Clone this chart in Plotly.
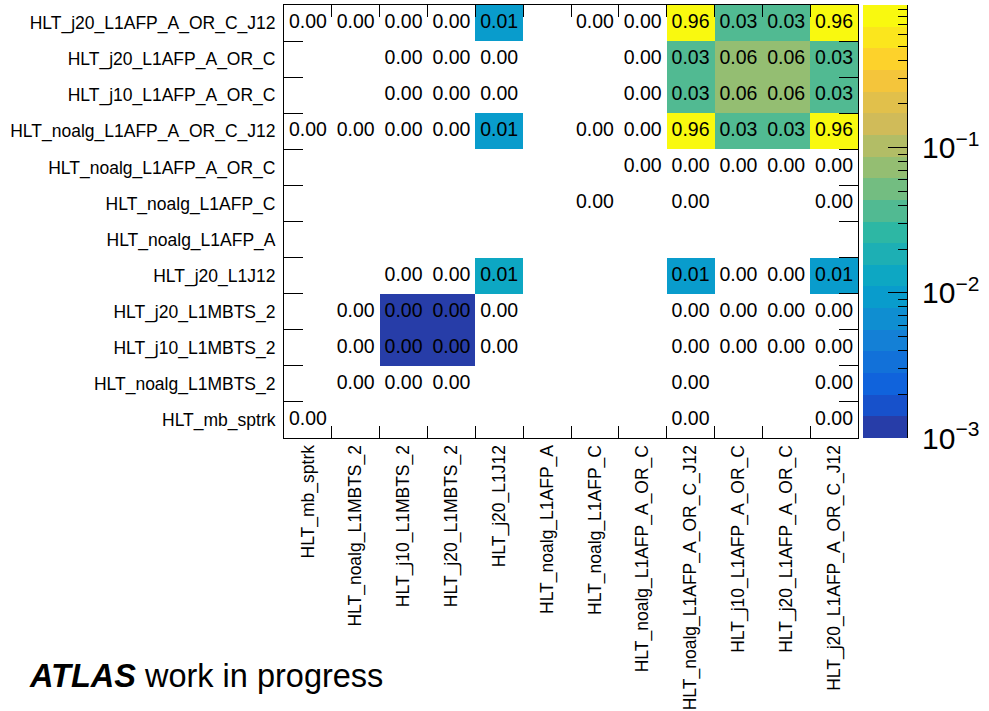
import math
import plotly.graph_objects as go

# ---------------- data ----------------
triggers = [
    "HLT_mb_sptrk",
    "HLT_noalg_L1MBTS_2",
    "HLT_j10_L1MBTS_2",
    "HLT_j20_L1MBTS_2",
    "HLT_j20_L1J12",
    "HLT_noalg_L1AFP_A",
    "HLT_noalg_L1AFP_C",
    "HLT_noalg_L1AFP_A_OR_C",
    "HLT_noalg_L1AFP_A_OR_C_J12",
    "HLT_j10_L1AFP_A_OR_C",
    "HLT_j20_L1AFP_A_OR_C",
    "HLT_j20_L1AFP_A_OR_C_J12",
]

# rows = y trigger (bottom to top), columns = x trigger (left to right); 0 = empty bin
row_mb_sptrk          = [0.0004, 0, 0, 0, 0, 0, 0, 0, 0.0004, 0, 0, 0.0004]
row_noalg_mbts        = [0, 0.0003, 0.0003, 0.0003, 0, 0, 0, 0, 0.0004, 0, 0, 0.0004]
row_j10_mbts          = [0, 0.0003, 0.0012, 0.0012, 0.0006, 0, 0, 0, 0.0005, 0.0004, 0.0004, 0.0005]
row_j20_mbts          = [0, 0.0003, 0.0012, 0.0012, 0.0006, 0, 0, 0, 0.0005, 0.0004, 0.0004, 0.0005]
row_j20_j12           = [0, 0, 0.0004, 0.0004, 0.013, 0, 0, 0, 0.0095, 0.0008, 0.0008, 0.0095]
row_noalg_afp_a       = [0, 0, 0, 0, 0, 0, 0, 0, 0, 0, 0, 0]
row_noalg_afp_c       = [0, 0, 0, 0, 0, 0, 0.0002, 0, 0.0002, 0, 0, 0.0002]
row_noalg_afp_aorc    = [0, 0, 0, 0, 0, 0, 0, 0.0003, 0.0003, 0.0002, 0.0002, 0.0003]
row_noalg_afp_aorc_j12 = [0.0004, 0.0003, 0.0004, 0.0004, 0.0095, 0, 0.0002, 0.0003, 0.96, 0.034, 0.034, 0.96]
row_j10_afp_aorc      = [0, 0, 0.0004, 0.0004, 0.0008, 0, 0, 0.0002, 0.034, 0.0635, 0.0635, 0.034]
row_j20_afp_aorc      = [0, 0, 0.0004, 0.0004, 0.0008, 0, 0, 0.0002, 0.034, 0.0635, 0.0635, 0.034]
row_j20_afp_aorc_j12  = [0.0004, 0.0003, 0.0004, 0.0004, 0.0095, 0, 0.0002, 0.0003, 0.96, 0.034, 0.034, 0.96]

values = [
    row_mb_sptrk, row_noalg_mbts, row_j10_mbts, row_j20_mbts, row_j20_j12,
    row_noalg_afp_a, row_noalg_afp_c, row_noalg_afp_aorc, row_noalg_afp_aorc_j12,
    row_j10_afp_aorc, row_j20_afp_aorc, row_j20_afp_aorc_j12,
]

z_min_val = 1e-3
z_max_val = 0.96
n_contours = 20
colorbar_ticks = [1e-3, 1e-2, 1e-1]
colorbar_ticktext = ["10<sup>\u22123</sup>", "10<sup>\u22122</sup>", "10<sup>\u22121</sup>"]

# ---------------- ROOT kBird palette -> 20 discrete bands ----------------
stops = [0.0, 0.125, 0.25, 0.375, 0.5, 0.625, 0.75, 0.875, 1.0]
red = [0.2082, 0.0592, 0.0780, 0.0232, 0.1802, 0.5301, 0.8186, 0.9956, 0.9764]
green = [0.1664, 0.3599, 0.5041, 0.6419, 0.7178, 0.7492, 0.7328, 0.7862, 0.9832]
blue = [0.5293, 0.8684, 0.8385, 0.7914, 0.6425, 0.4662, 0.3499, 0.1968, 0.0539]


def bird(f):
    for k in range(len(stops) - 1):
        if stops[k] <= f <= stops[k + 1]:
            t = (f - stops[k]) / (stops[k + 1] - stops[k])
            r = red[k] + t * (red[k + 1] - red[k])
            g = green[k] + t * (green[k + 1] - green[k])
            b = blue[k] + t * (blue[k + 1] - blue[k])
            return "rgb(%d,%d,%d)" % (round(r * 255), round(g * 255), round(b * 255))
    return "rgb(249,251,14)"


colorscale = []
for i in range(n_contours):
    f = int((i + 0.99) * 255 / n_contours) / 255.0
    c = bird(f)
    colorscale.append([i / n_contours, c])
    colorscale.append([(i + 1) / n_contours, c])

zmin = math.log10(z_min_val)
zmax = math.log10(z_max_val)

zlog = [[(math.log10(v) if v >= z_min_val else None) for v in row] for row in values]

FONT = "Liberation Sans, Arial, Helvetica, sans-serif"

fig = go.Figure()
fig.add_trace(go.Heatmap(
    x=triggers, y=triggers, z=zlog, colorscale=colorscale, zmin=zmin, zmax=zmax,
    showscale=False, hoverongaps=False, xaxis="x", yaxis="y",
))

# cell texts
tx, ty, tt = [], [], []
for iy, row in enumerate(values):
    for ix, v in enumerate(row):
        if v > 0:
            tx.append(triggers[ix])
            ty.append(triggers[iy])
            tt.append("%.2f" % v)
fig.add_trace(go.Scatter(
    x=tx, y=ty, text=tt, mode="text", textposition="middle center",
    textfont=dict(family=FONT, size=19.5, color="black"),
    showlegend=False, hoverinfo="skip", xaxis="x", yaxis="y",
))

# colour bar drawn as a one-column heatmap on its own axes
band = (zmax - zmin) / n_contours
edges = [zmin + i * band for i in range(n_contours + 1)]
centers = [[zmin + (i + 0.5) * band] for i in range(n_contours)]
fig.add_trace(go.Heatmap(
    x=[0, 1], y=edges, z=centers, colorscale=colorscale, zmin=zmin, zmax=zmax,
    showscale=False, hoverinfo="skip", xaxis="x2", yaxis="y2",
))

minor_vals = []
for e in (-3, -2, -1):
    for k in range(2, 10):
        lv = math.log10(k * 10 ** e)
        if lv <= zmax:
            minor_vals.append(lv)

W, H = 989, 711
L, R, T, B = 284, 82, 5, 273
PW = W - L - R
PH = H - T - B
main_right = (858 - L) / PW
cb_left = (863 - L) / PW

axis_common = dict(
    showline=True, linecolor="black", linewidth=1, mirror="ticks",
    ticks="inside", tickson="boundaries", tickcolor="black", tickwidth=1,
    showgrid=False, zeroline=False, automargin=False,
    tickfont=dict(family=FONT, size=17.5, color="black"),
    type="category",
)

fig.update_layout(
    width=W, height=H,
    margin=dict(l=L, r=R, t=T, b=B, pad=0),
    paper_bgcolor="white", plot_bgcolor="white",
    showlegend=False,
    xaxis=dict(axis_common, domain=[0, main_right], anchor="y", ticklen=12,
               tickangle=-90, categoryorder="array", categoryarray=triggers,
               range=[-0.5, len(triggers) - 0.5], ticklabelstandoff=-1),
    yaxis=dict(axis_common, domain=[0, 1], anchor="x", ticklen=19,
               categoryorder="array", categoryarray=triggers,
               range=[-0.5, len(triggers) - 0.5], ticklabelstandoff=4),
    xaxis2=dict(domain=[cb_left, 1], anchor="y2", range=[0, 1], visible=False,
                fixedrange=True),
    yaxis2=dict(domain=[0, 1], anchor="x2", side="right", range=[zmin, zmax],
                showline=True, linecolor="black", linewidth=1,
                ticks="inside", ticklen=19, tickcolor="black", tickwidth=1,
                tickmode="array", tickvals=[math.log10(v) for v in colorbar_ticks],
                ticktext=colorbar_ticktext, ticklabelstandoff=8,
                minor=dict(tickmode="array", tickvals=minor_vals, ticks="inside",
                           ticklen=9, tickcolor="black", tickwidth=1, showgrid=False),
                tickfont=dict(family=FONT, size=30, color="black"),
                showgrid=False, zeroline=False, automargin=False),
)

fig.add_annotation(
    xref="paper", yref="paper",
    x=(27 - L) / PW, y=(438 - 676) / PH,
    xanchor="left", yanchor="middle",
    text="<b><i>ATLAS</i></b> work in progress",
    showarrow=False, font=dict(family=FONT, size=32.5, color="black"),
)

fig.write_html("out.html")
